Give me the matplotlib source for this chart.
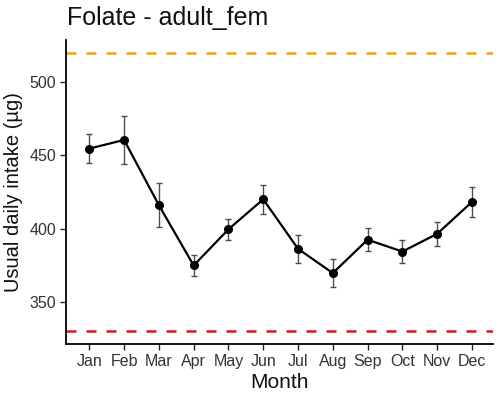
import matplotlib
matplotlib.use("Agg")
import matplotlib.pyplot as plt
import numpy as np

plt.rcParams['font.family'] = ['Liberation Sans', 'DejaVu Sans']

months = ["Jan", "Feb", "Mar", "Apr", "May", "Jun", "Jul", "Aug", "Sep", "Oct", "Nov", "Dec"]
intake = [454.6, 460.5, 416.0, 374.8, 399.5, 420.0, 386.2, 369.6, 392.4, 384.3, 396.4, 418.2]
err = [10.0, 16.5, 15.0, 7.0, 7.0, 10.0, 9.7, 9.7, 8.0, 8.0, 8.3, 10.5]
upper_ref = 520
lower_ref = 330

fig = plt.figure(figsize=(5.01, 3.97), dpi=100)
ax = fig.add_axes([0.1317, 0.1335, 0.852, 0.766])

x = np.arange(1, len(months) + 1)
ax.errorbar(x, intake, yerr=err, fmt='none', ecolor='#4d4d4d', elinewidth=1.0,
            capsize=2.5, capthick=1.0, zorder=2)
ax.plot(x, intake, color='black', lw=1.6, marker='o', markersize=5.5, zorder=3)

ax.axhline(upper_ref, color='#F0A500', lw=1.8, ls=(0, (4, 4)), zorder=1)
ax.axhline(lower_ref, color='#E8101A', lw=1.8, ls=(0, (4, 4)), zorder=1)

ax.set_xlim(0.33, 12.6)
ax.set_ylim(321.2, 528.8)
ax.set_xticks(x)
ax.set_xticklabels(months)
ax.set_yticks([350, 400, 450, 500])

for s in ['top', 'right']:
    ax.spines[s].set_visible(False)
for s in ['left', 'bottom']:
    ax.spines[s].set_linewidth(1.3)
ax.tick_params(axis='both', direction='out', length=4, width=1.0, labelsize=11.5,
               colors='#222222', labelcolor='#333333', pad=3)

ax.set_xlabel("Month", fontsize=15, color='#111111', labelpad=3)
ax.set_ylabel("Usual daily intake (\u00b5g)", fontsize=14.5, color='#111111', labelpad=5)
fig.text(0.134, 1 - 25 / 397, "Folate - adult_fem", fontsize=18, ha='left', va='baseline', color='#111111')

fig.savefig("out.png", dpi=100)
